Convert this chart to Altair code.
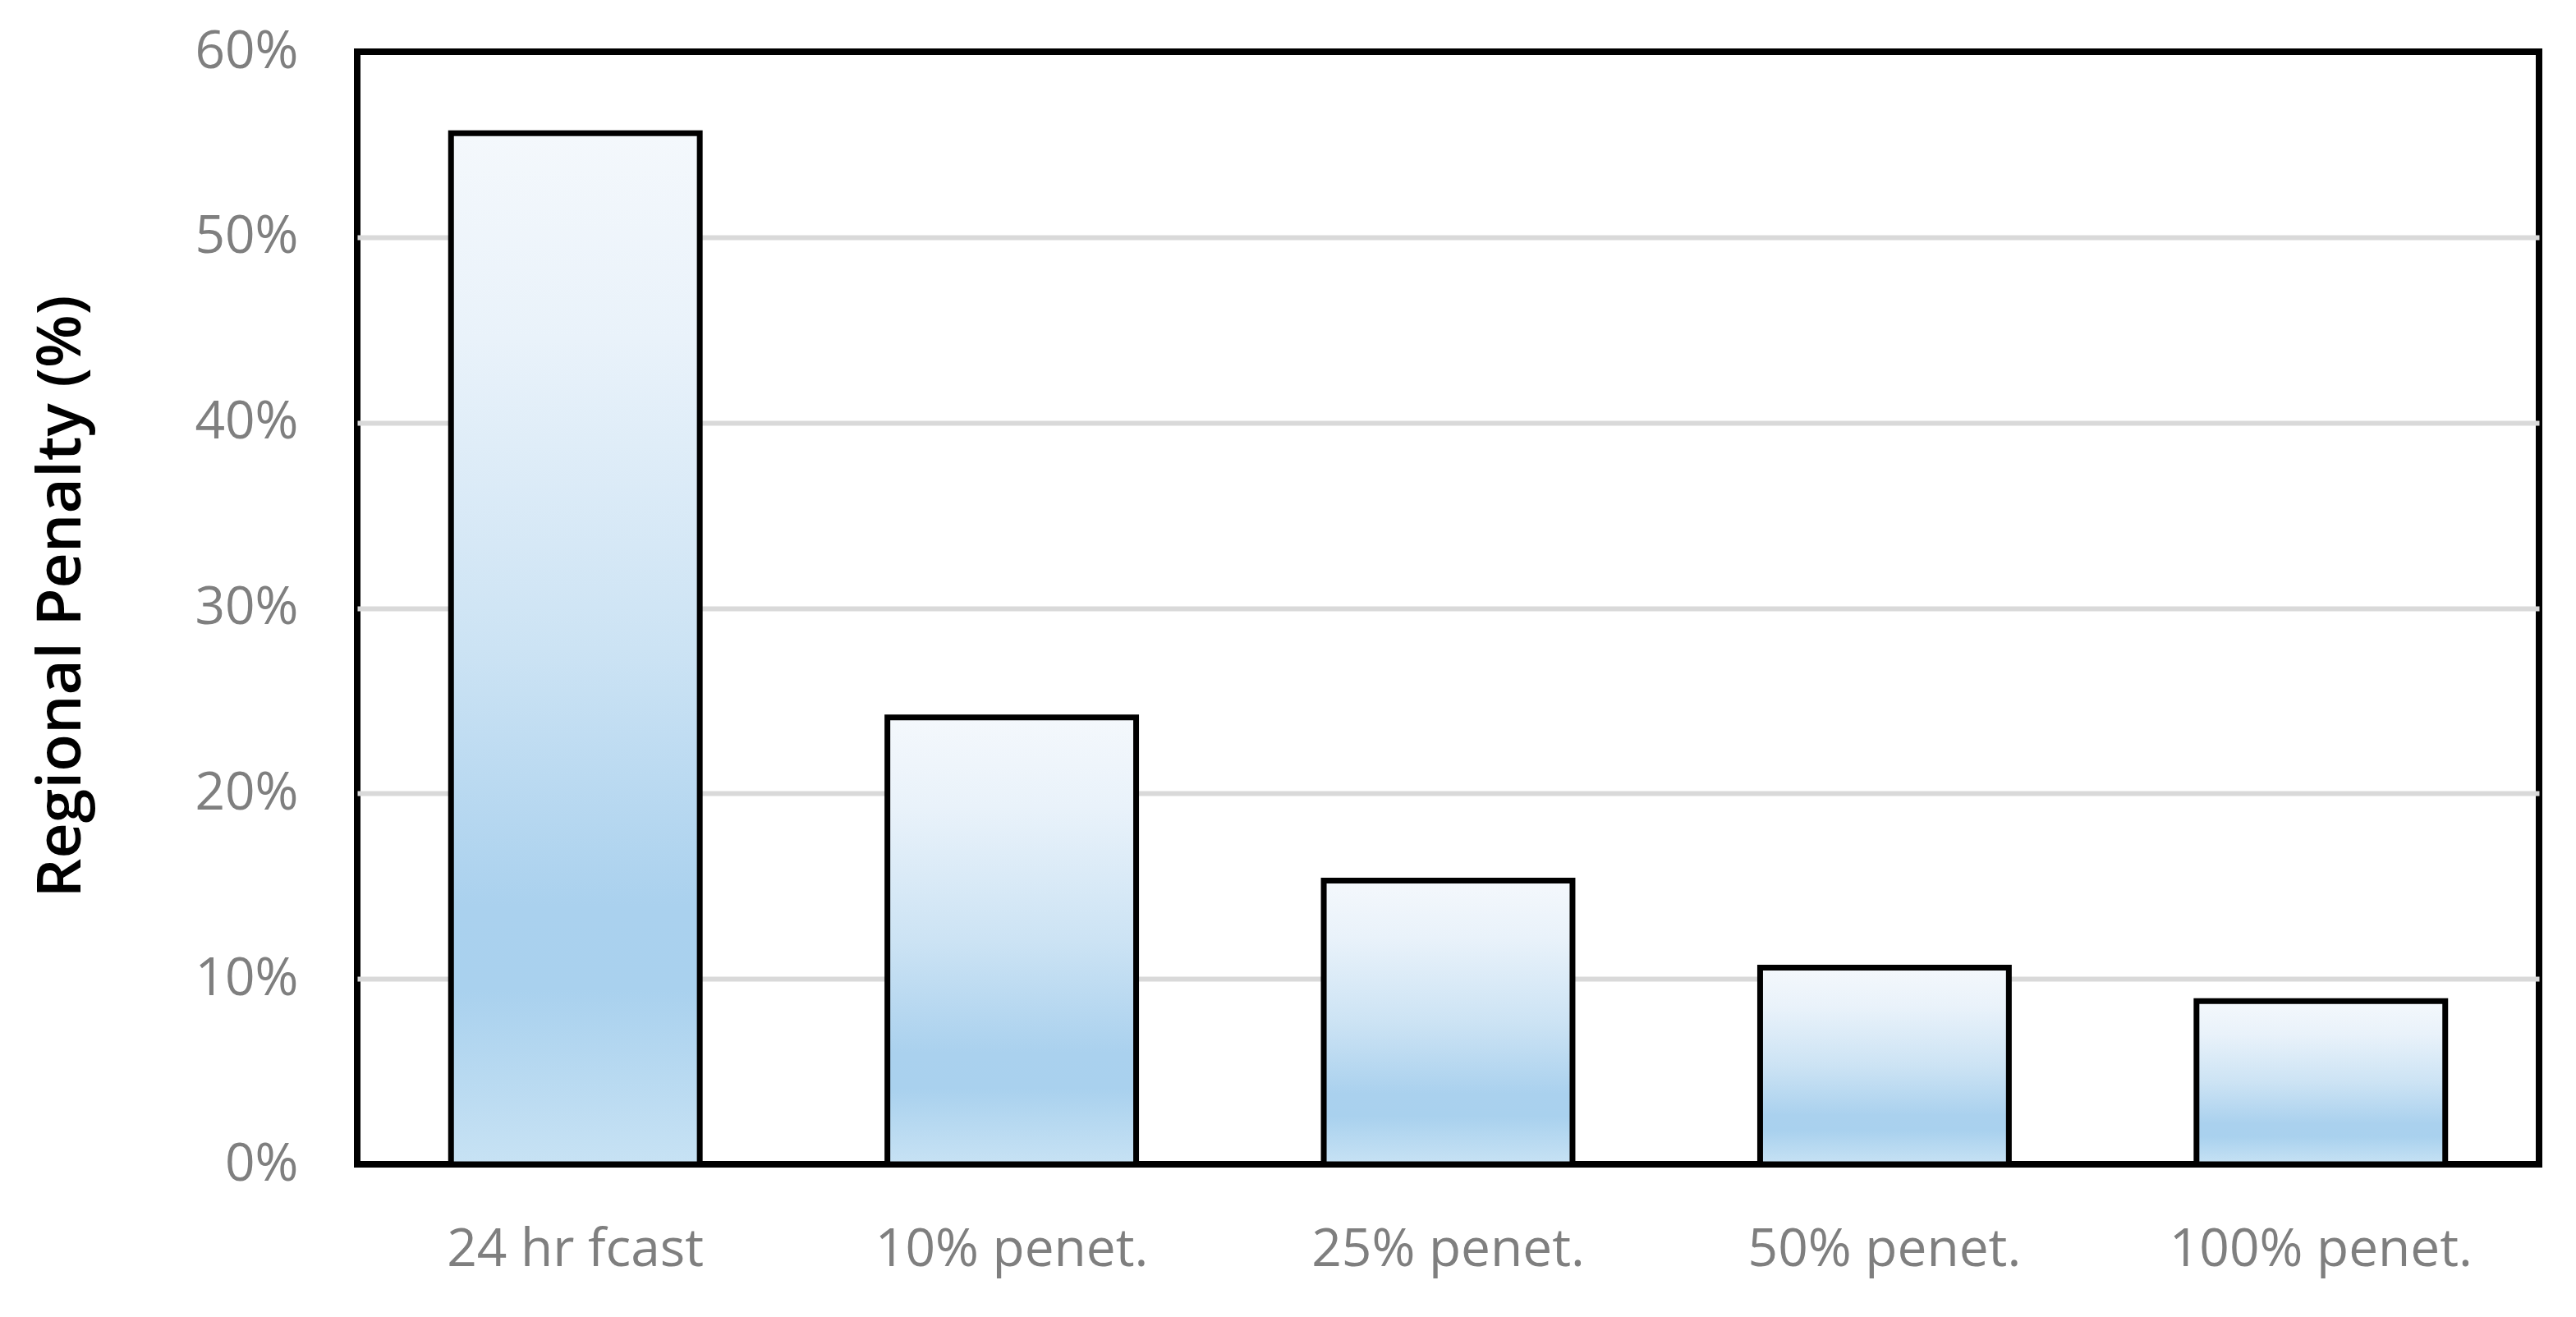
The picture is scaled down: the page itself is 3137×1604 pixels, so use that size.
import altair as alt
import pandas as pd

categories = ["24 hr fcast", "10% penet.", "25% penet.", "50% penet.", "100% penet."]
penalty = [0.556, 0.241, 0.153, 0.106, 0.088]
y_ticks = [0, 0.1, 0.2, 0.3, 0.4, 0.5, 0.6]

df = pd.DataFrame({"scenario": categories, "penalty": penalty})

grad = alt.Gradient(
    gradient="linear",
    x1=0, y1=0, x2=0, y2=1,
    stops=[
        alt.GradientStop(color="#f4f8fc", offset=0),
        alt.GradientStop(color="#e9f2fa", offset=0.2),
        alt.GradientStop(color="#cce3f4", offset=0.5),
        alt.GradientStop(color="#aad1ee", offset=0.75),
        alt.GradientStop(color="#a9d1ee", offset=0.83),
        alt.GradientStop(color="#c7e2f4", offset=1),
    ],
)

FONT = "Open Sans"

chart = alt.Chart(df).mark_bar(
    color=grad, stroke="black", strokeWidth=7
).encode(
    x=alt.X(
        "scenario:N", sort=categories,
        scale=alt.Scale(paddingInner=0.43, paddingOuter=0.215),
        axis=alt.Axis(
            title=None, labelAngle=0, domain=False, ticks=False, tickSize=0,
            labelPadding=72, labelFont=FONT, labelFontSize=64, labelColor="#7f7f7f",
            labelBaseline="top", labelLimit=0,
        ),
    ),
    y=alt.Y(
        "penalty:Q",
        scale=alt.Scale(domain=[0, 0.6], nice=False),
        axis=alt.Axis(
            title="Regional Penalty (%)", values=y_ticks, format=".0%",
            domain=False, ticks=False, tickSize=0, labelPadding=72,
            labelFont=FONT, labelFontSize=64, labelColor="#7f7f7f", labelLimit=0,
            grid=True, gridColor="#d9d9d9", gridWidth=6,
            gridOpacity=alt.expr("datum.value <= 0.001 || datum.value >= 0.599 ? 0 : 1"),
            titleFont=FONT, titleFontSize=75, titleFontWeight=600, titleColor="black",
            titleAngle=270, titleX=-361, titleY=663, titleAlign="center",
            titleBaseline="middle", titleLimit=0,
        ),
    ),
).properties(
    width=2657, height=1355,
    background="white",
    autosize=alt.AutoSizeParams(type="none"),
    padding={"left": 427, "top": 55, "right": 30, "bottom": 170},
).configure_view(
    stroke="black", strokeWidth=8, fill="white"
)

chart.save("out.html", embed_options={"renderer": "svg", "actions": False})
